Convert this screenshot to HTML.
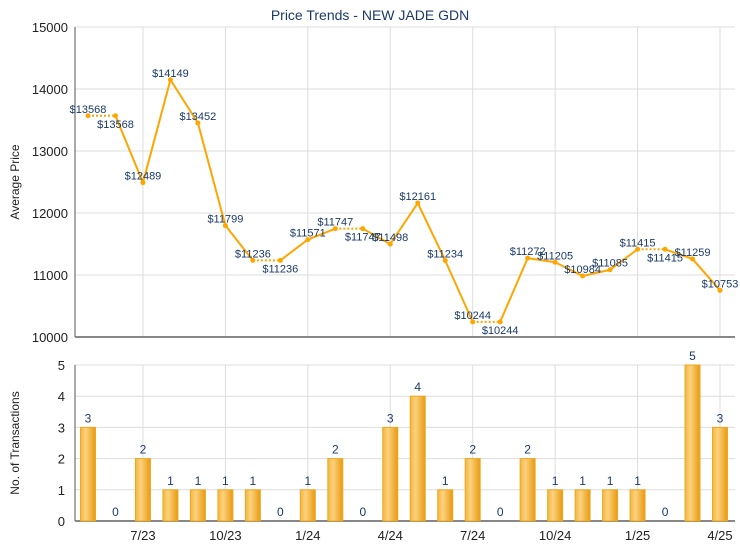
<!DOCTYPE html>
<html><head><meta charset="utf-8"><style>
body{margin:0;background:#fff;}
svg{display:block;}
text{font-family:"Liberation Sans",Arial,sans-serif;}
</style></head><body>
<svg id="c" width="740" height="550">
<defs>
<linearGradient id="bg" x1="0" x2="1" y1="0" y2="0">
<stop offset="0" stop-color="#f2b640"/><stop offset="0.35" stop-color="#fcd27e"/><stop offset="1" stop-color="#e89a10"/>
</linearGradient>
</defs>
<text x="370" y="20" text-anchor="middle" font-size="14" fill="#1a3a6a" font-family="Liberation Sans, sans-serif">Price Trends - NEW JADE GDN</text>
<g id="g"></g>
</svg>
<script>
const prices=[13568,13568,12489,14149,13452,11799,11236,11236,11571,11747,11747,11498,12161,11234,10244,10244,11272,11205,10984,11085,11415,11415,11259,10753];
const counts=[3,0,2,1,1,1,1,0,1,2,0,3,4,1,2,0,2,1,1,1,1,0,5,3];
const xLabels=["7/23","10/23","1/24","4/24","7/24","10/24","1/25","4/25"];
const xLabelIdx=[2,5,8,11,14,17,20,23];
const priceTicks=[10000,11000,12000,13000,14000,15000];
const countTicks=[0,1,2,3,4,5];
const NS="http://www.w3.org/2000/svg";
const g=document.getElementById('g');
const L=75,R=735,T1=27,B1=337,T2=365,B2=521;
const FF="Liberation Sans, sans-serif";
const x=i=>88+i*(720-88)/(prices.length-1);
const yP=v=>B1-(v-10000)/5000*(B1-T1);
const yC=v=>B2-v/5*(B2-T2);
function el(t,a,txt){const e=document.createElementNS(NS,t);for(const k in a)e.setAttribute(k,a[k]);if(t==='text')e.setAttribute('font-family',FF);if(txt!==undefined)e.textContent=txt;g.appendChild(e);return e;}
priceTicks.forEach(v=>{
 const l=el('line',{x1:L,x2:R,y1:yP(v),y2:yP(v),stroke:'#ddd'});
 
 
 const t=el('text',{x:L-7,y:yP(v)+5,'text-anchor':'end','font-size':13,fill:'#222'},v);
 
 
});
countTicks.forEach(v=>{
 const l=el('line',{x1:L,x2:R,y1:yC(v),y2:yC(v),stroke:'#ddd'});
 
 
 const t=el('text',{x:L-10,y:yC(v)+5,'text-anchor':'end','font-size':13,fill:'#222'},v);
 
 
});
xLabelIdx.forEach((i,k)=>{
 [[T1,B1],[T2,B2]].forEach(([a,b])=>{
  const l=el('line',{x1:x(i),x2:x(i),y1:a,y2:b,stroke:'#ddd'});
  
  
 });
 const t=el('text',{x:x(i),y:540,'text-anchor':'middle','font-size':13,fill:'#222'},xLabels[k]);
 
 
});
[[T1,B1],[T2,B2]].forEach(([a,b])=>{
 const v=el('line',{x1:L,x2:L,y1:a,y2:b,stroke:'#555'});
 
 
 const h=el('line',{x1:L,x2:R,y1:b,y2:b,stroke:'#888','stroke-width':2});
 
 
});
let t1=el('text',{x:0,y:0,transform:`translate(19,${(T1+B1)/2}) rotate(-90)`,'text-anchor':'middle','font-size':12,fill:'#222'},'Average Price');


let t2=el('text',{x:0,y:0,transform:`translate(19,${(T2+B2)/2}) rotate(-90)`,'text-anchor':'middle','font-size':12,fill:'#222'},'No. of Transactions');


for(let i=1;i<prices.length;i++){
 const s=el('line',{x1:x(i-1),y1:yP(prices[i-1]),x2:x(i),y2:yP(prices[i]),stroke:'#ffa500','stroke-width':2});
 if(prices[i]===prices[i-1])s.setAttribute('stroke-dasharray','2,2');
 
 
}
prices.forEach((v,i)=>{
 const p=el('circle',{cx:x(i),cy:yP(v),r:2.5,fill:'#ffa500'});
 
 
 const dup=i>0&&v===prices[i-1];
 const ly=dup?yP(v)+12:yP(v)-3;
 const t=el('text',{x:x(i),y:ly,'text-anchor':'middle','font-size':11,fill:'#1a3a6a'},'$'+v);
 
 
});
counts.forEach((v,i)=>{
 if(v>0){
  const b=el('rect',{x:x(i)-7.5,y:yC(v),width:15,height:B2-yC(v),fill:'url(#bg)',stroke:'#f0a820','stroke-width':1});
  
  
 }
 const t=el('text',{x:x(i),y:yC(v)-5,'text-anchor':'middle','font-size':12,fill:'#1a3a6a'},v);
 
 
});
</script>
</body></html>
